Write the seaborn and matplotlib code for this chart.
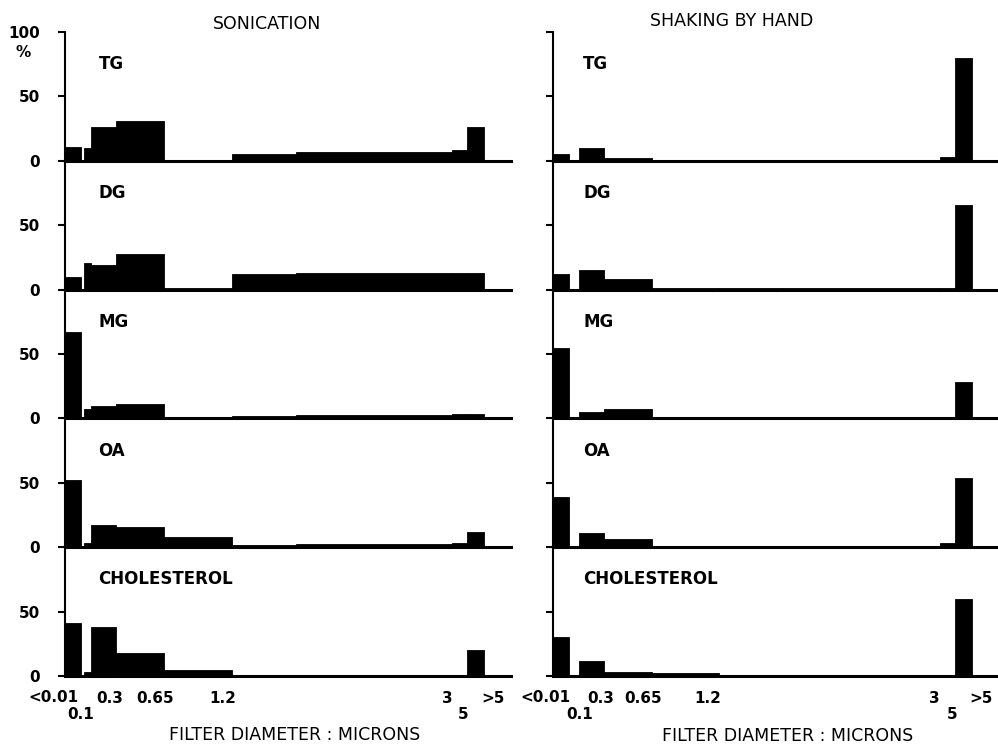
import numpy as np
import matplotlib
matplotlib.use("Agg")
import matplotlib.pyplot as plt
import matplotlib.transforms as mtransforms
import seaborn as sns

# --- DATA ---
# size fractions along the filter-diameter axis (microns up to 3, then 3-5 and >5 squeezed in)
BIN_EDGES = [0, 0.125, 0.15, 0.2, 0.4, 0.77, 1.3, 1.8, 3.02, 3.14, 3.27]
LIPIDS = ["TG", "DG", "MG", "OA", "CHOLESTEROL"]

# % of lipid in each fraction
SONIC_TG = [11, 0, 10, 26, 31, 1, 5, 6.5, 8, 26]
SONIC_DG = [10, 0, 21, 19, 28, 1.5, 12, 13, 13, 13]
SONIC_MG = [67, 0, 7, 10, 11, 1, 2, 3, 3.5, 3.5]
SONIC_OA = [52, 0, 3, 17, 16, 8, 2, 2.5, 3, 12]
SONIC_CHOL = [41, 0, 3, 38, 18, 5, 1, 1, 1, 20]

SHAKE_TG = [5, 0, 0, 10, 2, 1, 1, 1, 3, 80]
SHAKE_DG = [12, 0, 0, 15, 8, 1, 1, 1, 1, 66]
SHAKE_MG = [55, 0, 0, 5, 7, 1, 1, 1, 1, 28]
SHAKE_OA = [39, 0, 0, 11, 6, 1, 1, 1, 3, 54]
SHAKE_CHOL = [30, 0, 0, 12, 3, 2, 1, 1, 1, 60]

SONICATION = [SONIC_TG, SONIC_DG, SONIC_MG, SONIC_OA, SONIC_CHOL]
SHAKING = [SHAKE_TG, SHAKE_DG, SHAKE_MG, SHAKE_OA, SHAKE_CHOL]

# upper row of x labels and the staggered lower row
TICK_LABELS = ["0.3", "0.65", "1.2", "3", ">5"]
LOW_LABELS = ["0.1", "5"]
TICK_POS_LEFT = [0.35, 0.70, 1.23, 2.98, 3.34]
TICK_POS_RIGHT = [0.37, 0.70, 1.21, 2.98, 3.34]
LOW_POS_LEFT = [0.125, 3.11]
LOW_POS_RIGHT = [0.21, 3.12]

sns.set_style("ticks")
plt.rcParams['font.family'] = ['DejaVu Sans']
plt.rcParams.update({
    "text.color": "black",
    "axes.edgecolor": "black",
    "axes.labelcolor": "black",
    "xtick.color": "black",
    "ytick.color": "black",
})

W, H_PX = 998, 746
fig = plt.figure(figsize=(W / 100, H_PX / 100), dpi=100)

centers = (np.array(BIN_EDGES[:-1]) + np.array(BIN_EDGES[1:])) / 2

TOP = 1 - 32 / H_PX
BOTTOM = 1 - 676 / H_PX
PH = (TOP - BOTTOM) / 5

columns = [
    dict(data=SONICATION, left=65 / W, width=446 / W, xmax=3.48,
         ticks=TICK_POS_LEFT, low=LOW_POS_LEFT, lt_x=-0.09, labels=True, name_x=0.075,
         title="SONICATION", title_xy=(267 / W, 1 - 24 / H_PX),
         xlab_xy=(295 / W, 1 - 735 / H_PX)),
    dict(data=SHAKING, left=553 / W, width=443 / W, xmax=3.46,
         ticks=TICK_POS_RIGHT, low=LOW_POS_RIGHT, lt_x=-0.06, labels=False, name_x=0.068,
         title="SHAKING BY HAND", title_xy=(732 / W, 1 - 21 / H_PX),
         xlab_xy=(788 / W, 1 - 736 / H_PX)),
]

for col in columns:
    for i, (lipid, vals) in enumerate(zip(LIPIDS, col["data"])):
        ax = fig.add_axes([col["left"], TOP - (i + 1) * PH, col["width"], PH])
        ax.patch.set_alpha(0)
        sns.histplot(x=centers, weights=vals, bins=BIN_EDGES, stat="count",
                     color="black", alpha=1, edgecolor="black", linewidth=0.6, ax=ax)
        ax.set_xlim(0, col["xmax"])
        ax.set_ylim(0, 100)
        ax.set_xlabel("")
        ax.set_ylabel("")
        sns.despine(ax=ax)
        ax.spines["left"].set_linewidth(1.5)
        ax.spines["bottom"].set_linewidth(2.2)

        ax.text(col["name_x"], 0.75, lipid, transform=ax.transAxes, ha="left", va="center",
                fontsize=12, fontweight="bold")

        yt = [0, 50, 100] if i == 0 else [0, 50]
        if col["labels"]:
            ax.set_yticks(yt, [str(v) for v in yt], fontsize=11, fontweight="bold")
        else:
            ax.set_yticks(yt, [""] * len(yt))
        ax.tick_params(axis="y", direction="out", length=5, width=1.5, pad=13)

        if col["labels"] and i == 0:
            trans = mtransforms.blended_transform_factory(ax.transAxes, ax.transData)
            ax.text(-0.094, 84, "%", transform=trans, ha="center", va="center",
                    fontsize=11, fontweight="bold")

        if i == 4:
            ax.set_xticks(col["ticks"], TICK_LABELS, fontsize=11, fontweight="bold")
            ax.set_xticks(col["low"], LOW_LABELS, minor=True, fontsize=11, fontweight="bold")
            ax.tick_params(axis="x", which="major", length=0, pad=10.5)
            ax.tick_params(axis="x", which="minor", length=0, pad=22)
            trans = mtransforms.blended_transform_factory(ax.transData, ax.transAxes)
            ax.text(col["lt_x"], -0.165, "<0.01", transform=trans, ha="center", va="center",
                    fontsize=11, fontweight="bold", clip_on=False)
        else:
            ax.set_xticks([])

    fig.text(*col["title_xy"], col["title"], ha="center", va="center", fontsize=12.5)
    fig.text(*col["xlab_xy"], "FILTER DIAMETER : MICRONS", ha="center", va="center", fontsize=12.5)

plt.savefig("out.png", dpi=100)
plt.close()
